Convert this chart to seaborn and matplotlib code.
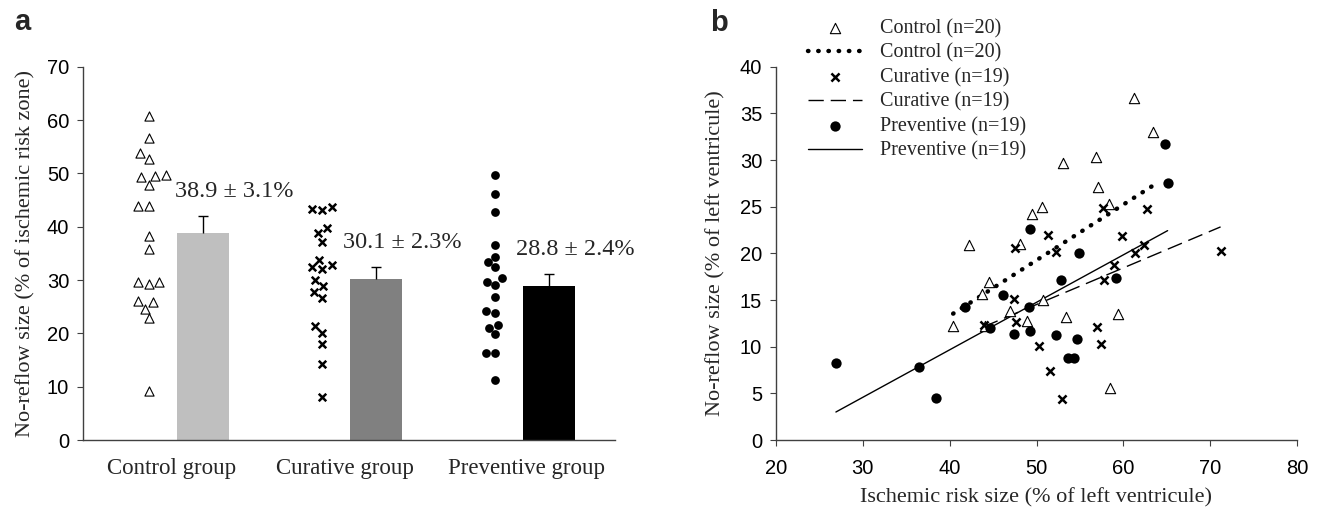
"""No-reflow size by group (a) and versus ischemic risk size (b)."""
import matplotlib

matplotlib.use("Agg")
import matplotlib.pyplot as plt
import numpy as np
import seaborn as sns

# ---- panel a data -------------------------------------------------------
groups = ["Control group", "Curative group", "Preventive group"]
control_a = [60.7, 56.6, 53.9, 52.7, 49.7, 49.3, 49.5, 47.9, 43.8, 43.8,
             38.2, 35.8, 29.7, 29.2, 29.7, 26.1, 25.9, 24.6, 22.8, 9.2]
curative_a = [43.1, 43.7, 43.3, 38.9, 39.8, 37.2, 32.8, 33.8, 32.4, 32.0,
              30.0, 28.8, 27.8, 26.6, 21.3, 20.0, 18.0, 14.3, 8.0]
preventive_a = [49.6, 46.1, 42.7, 36.6, 34.4, 33.4, 32.5, 29.1, 29.6, 30.3,
                26.9, 23.8, 24.1, 19.8, 21.0, 21.6, 16.3, 16.4, 11.3]
means = [38.9, 30.1, 28.8]
sems = [3.1, 2.3, 2.4]

# ---- panel b data -------------------------------------------------------
control_x = [61.2, 63.4, 53.1, 56.9, 57.1, 58.4, 50.6, 49.5, 48.1, 50.7,
             47.0, 48.9, 53.4, 59.4, 58.5, 42.2, 44.5, 43.7, 40.4, 44.1]
control_y = [36.6, 33.0, 29.7, 30.3, 27.1, 25.3, 25.0, 24.2, 21.0, 15.0,
             13.8, 12.7, 13.2, 13.5, 5.6, 20.9, 16.9, 15.6, 12.2, 12.2]
curative_x = [57.7, 62.7, 51.3, 59.9, 47.5, 52.2, 62.4, 61.4, 71.2, 58.9,
              57.8, 47.4, 47.6, 57.0, 57.4, 50.3, 51.6, 52.9, 43.9]
curative_y = [24.9, 24.7, 22.0, 21.9, 20.6, 20.1, 20.9, 20.0, 20.3, 18.7,
              17.1, 15.1, 12.6, 12.1, 10.3, 10.1, 7.4, 4.4, 12.3]
preventive_x = [26.9, 36.5, 38.4, 41.8, 44.6, 46.1, 47.4, 49.3, 49.1, 49.3,
                52.3, 52.8, 54.7, 53.6, 54.3, 54.9, 59.1, 64.8, 65.1]
preventive_y = [8.3, 7.8, 4.5, 14.3, 12.0, 15.5, 11.4, 11.7, 14.2, 22.6,
                11.3, 17.1, 10.8, 8.8, 8.8, 20.0, 17.4, 31.7, 27.5]

sns.set_style("white")
plt.rcParams["font.family"] = ["Liberation Serif", "DejaVu Serif"]
SANS = "Liberation Sans"
SPINE = "#404040"

fig = plt.figure(figsize=(13.23, 5.15), dpi=100)
W, H = 1323, 515
ax_a = fig.add_axes([83 / W, 75 / H, 532 / W, 373.3 / H])
ax_b = fig.add_axes([776 / W, 75 / H, 521 / W, 373.3 / H])

# ---- panel a --------------------------------------------------------------
bar_pos = np.arange(len(groups)) + 0.16
pts_off = -0.15
bar_colors = ["#bfbfbf", "#808080", "#000000"]
sns.barplot(x=bar_pos, y=means, hue=groups, palette=bar_colors, native_scale=True,
            width=0.3, linewidth=0, legend=False, ax=ax_a)
eb = ax_a.errorbar(bar_pos, means, yerr=[np.zeros(3), sems], fmt="none",
                   ecolor="black", elinewidth=1, capsize=3.3, capthick=1)
eb[1][0].set_visible(False)

marker_styles = [
    dict(marker="^", color="white", edgecolor="black", linewidth=0.8, size=6.6),
    dict(marker="x", color="black", linewidth=1.8, size=5.4),
    dict(marker="o", color="black", linewidth=0, size=6.3),
]
for i, (vals, kw) in enumerate(zip([control_a, curative_a, preventive_a], marker_styles)):
    sns.swarmplot(x=np.full(len(vals), i + pts_off), y=vals, native_scale=True,
                  orient="x", ax=ax_a, **kw)

text_dx = [0.18, 0.15, 0.15]
for i, (m, s) in enumerate(zip(means, sems)):
    ax_a.text(bar_pos[i] + text_dx[i], m + s + 4.6, f"{m} \u00b1 {s}%", ha="center",
              va="center", fontsize=17.5, clip_on=False)

ax_a.set_xlim(-0.53, 2.54)
ax_a.set_ylim(0, 70)
ax_a.set_yticks(range(0, 71, 10))
ax_a.set_xticks(np.arange(len(groups)) - 0.02 + np.array([0, 0, 0.05]))
ax_a.set_xticklabels(groups, fontsize=16.5)
ax_a.tick_params(axis="x", length=0, pad=13)
ax_a.set_ylabel("No-reflow size (% of ischemic risk zone)", fontsize=16)
ax_a.yaxis.set_label_coords(-0.09, 0.5)

# ---- panel b --------------------------------------------------------------
labels = ["Control (n=20)", "Curative (n=19)", "Preventive (n=19)"]
line_styles = [
    dict(linestyle=(0, (0.1, 2.2)), lw=3.2, dash_capstyle="round"),
    dict(linestyle=(0, (11, 5)), lw=1),
    dict(linestyle="-", lw=1),
]
scatter_styles = [
    dict(marker="^", color="white", edgecolor="black", linewidth=0.8, s=55),
    dict(marker="x", color="black", linewidth=1.8, s=34),
    dict(marker="o", color="black", linewidth=0, s=55),
]
series = [(control_x, control_y), (curative_x, curative_y), (preventive_x, preventive_y)]
for (xs, ys), lab, sk, lk in zip(series, labels, scatter_styles, line_styles):
    sns.scatterplot(x=xs, y=ys, label=lab, ax=ax_b, zorder=3, **sk)
    sns.regplot(x=xs, y=ys, scatter=False, ci=None, truncate=True, ax=ax_b,
                label=lab, line_kws=dict(color="black", **lk))

ax_b.set_xlim(20, 80)
ax_b.set_ylim(0, 40)
ax_b.set_xticks(range(20, 81, 10))
ax_b.set_yticks(range(0, 41, 5))
ax_b.set_xlabel("Ischemic risk size (% of left ventricule)", fontsize=16)
ax_b.set_ylabel("No-reflow size (% of left ventricule)", fontsize=16)
ax_b.xaxis.set_label_coords(0.5, -0.13)
ax_b.yaxis.set_label_coords(-0.097, 0.5)
ax_b.tick_params(axis="x", length=4, direction="out", pad=10, colors=SPINE,
                 labelcolor="black", bottom=True)

handles, labs = ax_b.get_legend_handles_labels()
ax_b.legend(handles, labs, loc="upper left", bbox_to_anchor=(0.061, 1.128),
            frameon=False, fontsize=14.5, handlelength=2.7, handletextpad=0.9,
            labelspacing=0.26, borderpad=0, borderaxespad=0, scatterpoints=1)

for ax in (ax_a, ax_b):
    sns.despine(ax=ax)
    for side in ("left", "bottom"):
        ax.spines[side].set_color(SPINE)
        ax.spines[side].set_linewidth(1)
    ax.tick_params(axis="y", length=4, direction="out", pad=6, colors=SPINE,
                   labelcolor="black", left=True)
    for lab in ax.get_yticklabels():
        lab.set_fontfamily(SANS)
        lab.set_fontsize(14.5)
for lab in ax_b.get_xticklabels():
    lab.set_fontfamily(SANS)
    lab.set_fontsize(14.5)

fig.text(14 / W, 1 - 30 / H, "a", fontsize=21, fontweight="bold", family=SANS)
fig.text(710 / W, 1 - 31 / H, "b", fontsize=21, fontweight="bold", family=SANS)

fig.savefig("out.png", dpi=100)
